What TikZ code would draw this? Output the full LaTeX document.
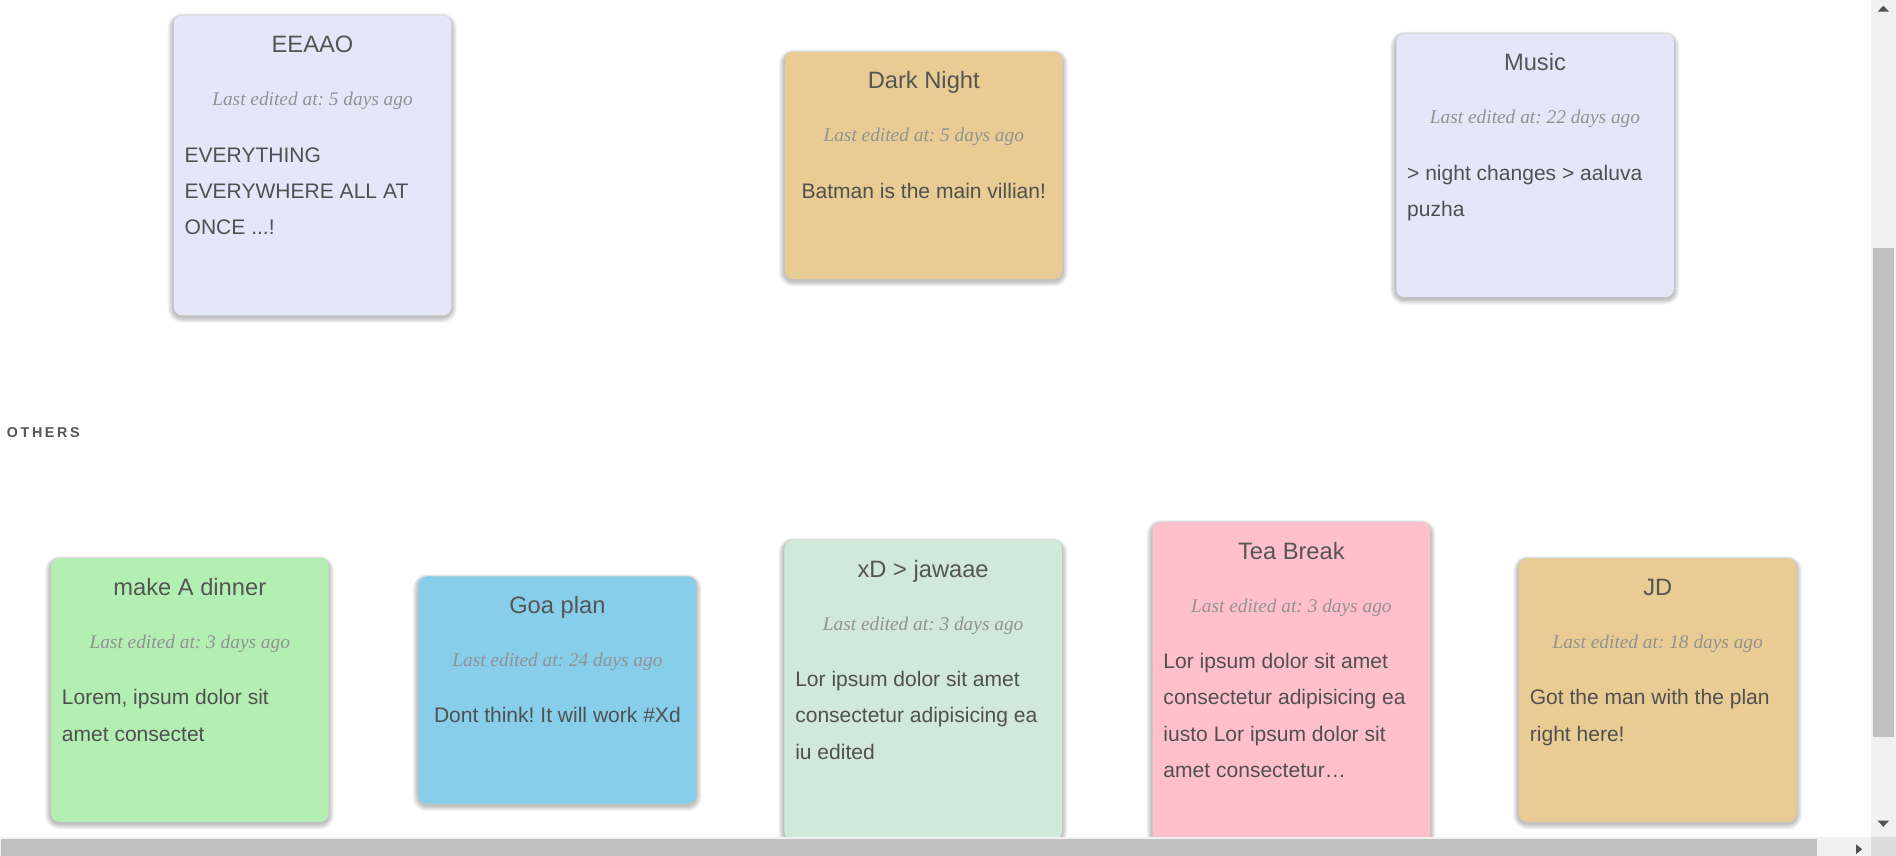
\documentclass[tikz,border=0pt]{standalone}
\usepackage{fontspec}
\setmainfont{Liberation Sans}
\newfontfamily\datefamily{Liberation Serif}
\usetikzlibrary{calc}
\definecolor{lav}{HTML}{E6E6FA}
\definecolor{tan}{HTML}{E9CC94}
\definecolor{mygreen}{HTML}{B3EEB3}
\definecolor{sky}{HTML}{87CEEB}
\definecolor{mint}{HTML}{D0E9DA}
\definecolor{mypink}{HTML}{FFC0CB}
\definecolor{titlecol}{HTML}{555555}
\definecolor{bodycol}{HTML}{505050}
\definecolor{datecol}{HTML}{929292}
\definecolor{track}{HTML}{F1F1F1}
\definecolor{thumb}{HTML}{C1C1C1}
\definecolor{corner}{HTML}{DCDCDC}
\definecolor{arrowcol}{HTML}{505050}
\tikzset{
  cardbox/.style={rounded corners=7pt, minimum width=229.5pt, inner sep=0pt},
  shadowlayer/.style={fill=black, fill opacity=0.045},
  titletext/.style={anchor=base, inner sep=0pt, text=titlecol, font=\fontsize{19.6}{22}\selectfont},
  datetext/.style={anchor=base, inner sep=0pt, text=datecol, font=\datefamily\itshape\fontsize{16}{19}\selectfont},
  bodytext/.style={inner sep=0pt, text=bodycol, font=\fontsize{17.4}{20}\selectfont},
  headtext/.style={anchor=base west, inner sep=0pt, text=titlecol, font=\bfseries\fontsize{11.8}{14}\selectfont},
}
\newcommand\notecard[7]{%
  \foreach \s in {1,...,6}{%
    \fill[shadowlayer, rounded corners=7pt+0.8pt*\s]
      (#2-0.8*\s, #3+1.5-0.5*\s) rectangle (#2+229.5+0.8*\s, #3+#4+1.5+0.8*\s);
  }
  \node[cardbox, fill=#5, minimum height=#4pt, anchor=north west] (#1) at (#2,#3) {};
  \node[titletext] (#1-t) at ([yshift=-30.8pt]#1.north) {#6};
  \node[datetext] (#1-d) at ([yshift=-74.7pt]#1.north) {Last edited at: #7};
}
\newcommand\cardline[4]{% card, index, line no (0..), text
  \node[bodytext, anchor=base west] (#1-b#2) at ([xshift=9pt,yshift=-121.4pt-30pt*#3]#1.north west) {#4};
}
\frenchspacing
\begin{document}
\begin{tikzpicture}[x=1pt,y=-1pt]
\useasboundingbox (0,0) rectangle (1568,707.9);
\fill[white] (0,0) rectangle (1568,707.9);

% top row
\notecard{c1}{143.5}{12.6}{248}{lav}{EEAAO}{5 days ago}
\cardline{c1}{1}{0}{EVERYTHING}
\cardline{c1}{2}{1}{EVERYWHERE ALL AT}
\cardline{c1}{3}{2}{ONCE ...!}

\notecard{c2}{649}{42.6}{188}{tan}{Dark Night}{5 days ago}
\node[bodytext, anchor=base] (c2-b1) at ([yshift=-121.4pt]c2.north) {Batman is the main villian!};

\notecard{c3}{1154.5}{27.6}{218}{lav}{Music}{22 days ago}
\cardline{c3}{1}{0}{> night changes > aaluva}
\cardline{c3}{2}{1}{puzha}

% section label
\node[headtext] (others) at (5.5,361.7) {O\kern2.2pt T\kern2.2pt H\kern2.2pt E\kern2.2pt R\kern2.2pt S};

% bottom row
\notecard{c4}{42}{461.5}{218}{mygreen}{make A dinner}{3 days ago}
\cardline{c4}{1}{0}{Lorem, ipsum dolor sit}
\cardline{c4}{2}{1}{amet consectet}

\notecard{c5}{346}{476.5}{188}{sky}{Goa plan}{24 days ago}
\node[bodytext, anchor=base] (c5-b1) at ([yshift=-121.4pt]c5.north) {Dont think! It will work \#Xd};

\notecard{c6}{648.5}{446.5}{248}{mint}{xD > jawaae}{3 days ago}
\cardline{c6}{1}{0}{Lor ipsum dolor sit amet}
\cardline{c6}{2}{1}{consectetur adipisicing ea}
\cardline{c6}{3}{2}{iu edited}

\notecard{c7}{953}{431.5}{278}{mypink}{Tea Break}{3 days ago}
\cardline{c7}{1}{0}{Lor ipsum dolor sit amet}
\cardline{c7}{2}{1}{consectetur adipisicing ea}
\cardline{c7}{3}{2}{iusto Lor ipsum dolor sit}
\cardline{c7}{4}{3}{amet consectetur…}

\notecard{c8}{1256}{461.5}{218}{tan}{JD}{18 days ago}
\cardline{c8}{1}{0}{Got the man with the plan}
\cardline{c8}{2}{1}{right here!}

% scrollbars
\fill[track] (1547.4,0) rectangle (1568,692.2);
\fill[thumb] (1549,205.3) rectangle (1566,609.6);
\fill[arrowcol] (1552.8,9.7) -- (1562.2,9.7) -- (1557.5,4.7) -- cycle;
\fill[arrowcol] (1552.8,678.7) -- (1562.2,678.7) -- (1557.5,683.7) -- cycle;
\fill[track] (0,692.2) rectangle (1547.4,707.9);
\fill[thumb] (1,693.9) rectangle (1502.7,707.9);
\fill[arrowcol] (1535,698.3) -- (1535,706.3) -- (1540,702.3) -- cycle;
\fill[corner] (1547.4,692.2) rectangle (1568,707.9);
\end{tikzpicture}
\end{document}
